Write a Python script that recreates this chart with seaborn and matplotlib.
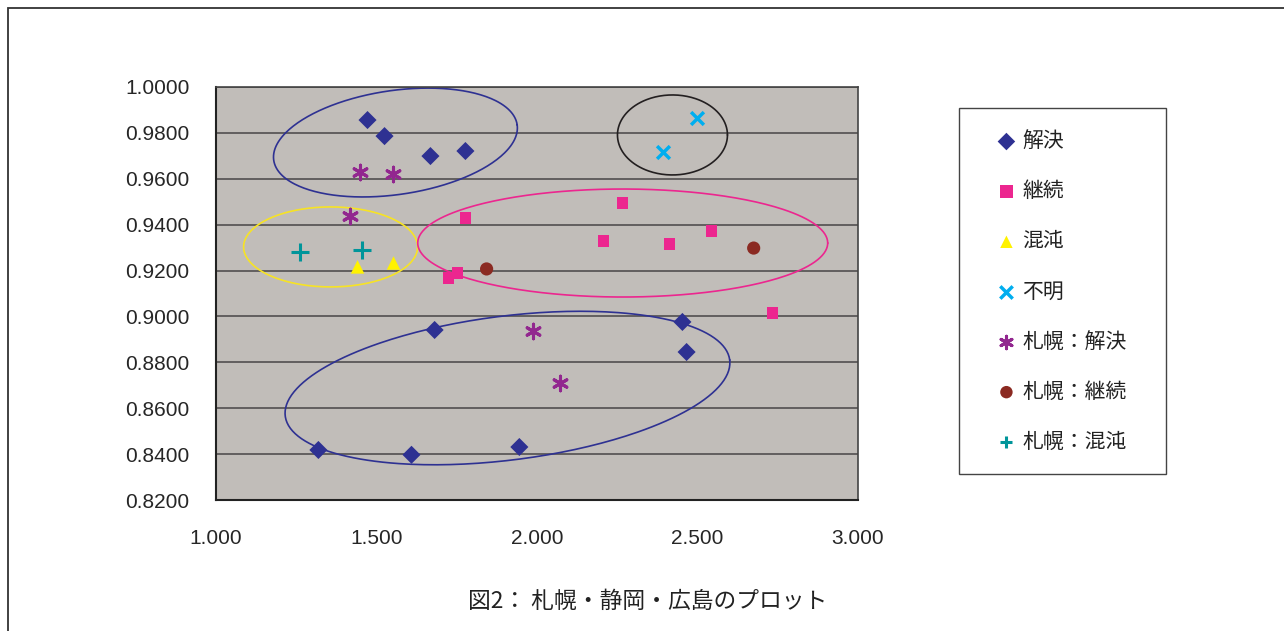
import numpy as np
import pandas as pd
import seaborn as sns
import matplotlib.pyplot as plt
from matplotlib.patches import Rectangle

# series
labels = ["解決", "継続", "混沌", "不明", "札幌：解決", "札幌：継続", "札幌：混沌"]

kaiketsu_x = [1.472, 1.525, 1.668, 1.777, 1.681, 2.453, 2.466, 1.319, 1.609, 1.945]
kaiketsu_y = [0.9856, 0.9786, 0.9699, 0.9721, 0.8941, 0.8976, 0.8845, 0.8418, 0.8397, 0.8431]
keizoku_x = [1.777, 1.752, 1.724, 2.207, 2.266, 2.413, 2.544, 2.734]
keizoku_y = [0.9429, 0.9190, 0.9168, 0.9329, 0.9495, 0.9316, 0.9373, 0.9015]
konton_x = [1.441, 1.553]
konton_y = [0.9216, 0.9233]
fumei_x = [2.497, 2.394]
fumei_y = [0.9865, 0.9717]
sapporo_kaiketsu_x = [1.450, 1.550, 1.416, 1.989, 2.073]
sapporo_kaiketsu_y = [0.9630, 0.9621, 0.9438, 0.8937, 0.8710]
sapporo_keizoku_x = [1.843, 2.675]
sapporo_keizoku_y = [0.9207, 0.9298]
sapporo_konton_x = [1.263, 1.456]
sapporo_konton_y = [0.9281, 0.9290]

xs = [kaiketsu_x, keizoku_x, konton_x, fumei_x, sapporo_kaiketsu_x, sapporo_keizoku_x, sapporo_konton_x]
ys = [kaiketsu_y, keizoku_y, konton_y, fumei_y, sapporo_kaiketsu_y, sapporo_keizoku_y, sapporo_konton_y]

colors = ["#2e3192", "#ec268f", "#fff200", "#00aeef", "#92278f", "#8b2a22", "#00959a"]
markers = ["D", "s", "^", "x", (6, 2, 0), "o", "+"]
sizes = [85, 70, 95, 85, 110, 90, 150]
lws = [0, 0, 0, 2.5, 2.2, 0, 2.2]

# hand drawn circles: center (data), semi axes (px), angle (deg), colour
ellipses = [
    (1.559, 0.9758, 123, 52, 8.3, "#2e3192"),
    (2.422, 0.9791, 55, 40, 0, "#231f20"),
    (1.357, 0.9303, 87, 40, 0, "#f7e324"),
    (2.267, 0.9320, 205, 54, 0, "#ec268f"),
    (1.908, 0.8688, 224, 72, 7.2, "#2e3192"),
]

rows = []
for lab, x, y in zip(labels, xs, ys):
    for a, b in zip(x, y):
        rows.append({"x": a, "y": b, "系列": lab})
df = pd.DataFrame(rows)

sns.set_style("white")
plt.rcParams["font.family"] = ["Liberation Sans", "Noto Sans CJK JP", "DejaVu Sans"]

fig = plt.figure(figsize=(12.84, 6.31), dpi=100)
ax = fig.add_axes([216 / 1284, 1 - 500 / 631, 642 / 1284, 413 / 631])
ax.set_facecolor("#c1bdb9")

for lab, c, m, s, lw in zip(labels, colors, markers, sizes, lws):
    sub = df[df["系列"] == lab]
    if lw > 0:
        sns.scatterplot(data=sub, x="x", y="y", ax=ax, color=c, marker=m, s=s,
                        linewidth=lw, label=lab, zorder=3)
    else:
        sns.scatterplot(data=sub, x="x", y="y", ax=ax, color=c, marker=m, s=s,
                        edgecolor="none", label=lab, zorder=3)

ax.set_xlim(1.0, 3.0)
ax.set_ylim(0.82, 1.0)
sx = 2.0 / 642
sy = 0.18 / 413
t = np.linspace(0, 2 * np.pi, 300)
for cx, cy, a, b, ang, c in ellipses:
    th = np.deg2rad(ang)
    px = a * np.cos(t) * np.cos(th) - b * np.sin(t) * np.sin(th)
    py = a * np.cos(t) * np.sin(th) + b * np.sin(t) * np.cos(th)
    ax.plot(cx + px * sx, cy + py * sy, color=c, lw=1.2, zorder=2)

ax.set_xticks(np.arange(1.0, 3.01, 0.5))
ax.set_yticks(np.arange(0.82, 1.001, 0.02))
ax.set_xticklabels([f"{v:.3f}" for v in np.arange(1.0, 3.01, 0.5)])
ax.set_yticklabels([f"{v:.4f}" for v in np.arange(0.82, 1.001, 0.02)])
ax.yaxis.grid(True, color="#5a5858", lw=1.3)
ax.set_axisbelow(True)
ax.tick_params(axis="x", direction="in", length=7, width=1, pad=21, labelsize=15, color="#222222")
ax.tick_params(axis="y", length=0, pad=19, labelsize=15)
ax.set_xlabel("")
ax.set_ylabel("")
for side in ["left", "bottom"]:
    ax.spines[side].set_color("#222222")
    ax.spines[side].set_linewidth(1.5)
for side in ["top", "right"]:
    ax.spines[side].set_color("#444444")
    ax.spines[side].set_linewidth(1.2)

leg = ax.legend(loc="upper left", bbox_to_anchor=(996 / 1284, 1 - 130 / 631),
                bbox_transform=fig.transFigure, frameon=False,
                labelspacing=1.35, handletextpad=0.27, handlelength=1.0,
                borderpad=0, borderaxespad=0,
                prop={"family": ["Noto Sans CJK JP", "DejaVu Sans"], "size": 15})
for h in leg.legend_handles:
    h.set_sizes([80])
for txt in leg.get_texts():
    txt.set_color("#222222")

# legend box
fig.patches.append(Rectangle((959 / 1284, 1 - 474 / 631), 207 / 1284, 366 / 631,
                             transform=fig.transFigure, fill=False,
                             edgecolor="#444444", lw=1.0))

fig.text(648 / 1284, 1 - 601 / 631, "図2： 札幌・静岡・広島のプロット", ha="center", va="center",
         fontsize=16.4, color="#222222", family=["Noto Sans CJK JP", "DejaVu Sans"])

fig.patches.append(Rectangle((8 / 1284, -0.1), 1.2, 1 - 8 / 631 + 0.1, transform=fig.transFigure,
                             fill=False, edgecolor="#333333", lw=1.3))

fig.savefig("out.png", dpi=100)
